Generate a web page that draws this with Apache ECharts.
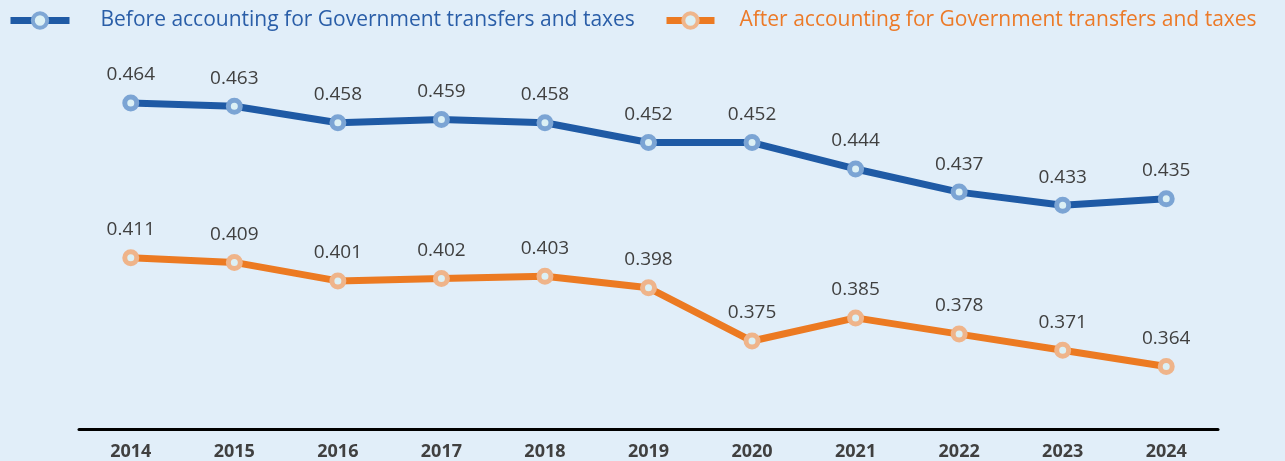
<!DOCTYPE html>
<html><head><meta charset="utf-8">
<script src="https://cdn.jsdelivr.net/npm/echarts@6/dist/echarts.min.js"></script>
<style>html,body{margin:0;padding:0;background:#e1eef9;}#c{width:1285px;height:461px;}</style>
</head><body><div id="c"></div>
<script>
const years = ['2014','2015','2016','2017','2018','2019','2020','2021','2022','2023','2024'];
const beforeName = 'Before accounting for Government transfers and taxes';
const afterName = 'After accounting for Government transfers and taxes';
const beforeVals = [0.464,0.463,0.458,0.459,0.458,0.452,0.452,0.444,0.437,0.433,0.435];
const afterVals = [0.411,0.409,0.401,0.402,0.403,0.398,0.375,0.385,0.378,0.371,0.364];

const FONT = 'Open Sans';
const chart = echarts.init(document.getElementById('c'));
chart.setOption({
  backgroundColor: '#e1eef9',
  animation: false,
  textStyle: {fontFamily: FONT},
  legend: [
    {
      top: 10, left: 7, padding: 0, itemWidth: 59, itemHeight: 18,
      textStyle: {fontSize: 21, fontFamily: FONT, color: '#2a5ea8', padding: [0,0,0,26]},
      data: [{name: beforeName, lineStyle: {width: 7, color: '#1f5aa5'},
              itemStyle: {color: '#dcf0f5', borderColor: '#7fa7d5', borderWidth: 4}}]
    },
    {
      top: 10, left: 663, padding: 0, itemWidth: 48, itemHeight: 18,
      textStyle: {fontSize: 21, fontFamily: FONT, color: '#ec7a28', padding: [0,0,0,20]},
      data: [{name: afterName, lineStyle: {width: 7, color: '#ec7a22'},
              itemStyle: {color: '#dcf0f5', borderColor: '#efb68c', borderWidth: 4}}]
    }
  ],
  grid: {left: 79, right: 67, top: 60, bottom: 31, containLabel: false},
  xAxis: {
    type: 'category', data: years, boundaryGap: true,
    axisLine: {lineStyle: {color: '#000', width: 3}},
    axisTick: {show: false},
    axisLabel: {color: '#404040', fontWeight: 'bold', fontSize: 18, margin: 14, fontFamily: FONT}
  },
  yAxis: [
    {type: 'value', min: 0.3653, max: 0.47698, show: false, splitLine: {show: false}},
    {type: 'value', min: 0.33696, max: 0.49651, show: false, splitLine: {show: false}}
  ],
  series: [
    {
      name: beforeName, type: 'line', yAxisIndex: 0, data: beforeVals,
      symbol: 'circle', symbolSize: 12,
      lineStyle: {color: '#1f5aa5', width: 7},
      itemStyle: {color: '#dcf0f5', borderColor: '#7ba4d4', borderWidth: 5},
      label: {show: true, position: 'top', distance: 10, color: '#404040', fontSize: 19, fontFamily: FONT,
              formatter: p => p.value.toFixed(3)}
    },
    {
      name: afterName, type: 'line', yAxisIndex: 1, data: afterVals,
      symbol: 'circle', symbolSize: 12,
      lineStyle: {color: '#ec7a22', width: 7},
      itemStyle: {color: '#dcf0f5', borderColor: '#efb48a', borderWidth: 5},
      label: {show: true, position: 'top', distance: 10, color: '#404040', fontSize: 19, fontFamily: FONT,
              formatter: p => p.value.toFixed(3)}
    }
  ]
});
</script></body></html>
